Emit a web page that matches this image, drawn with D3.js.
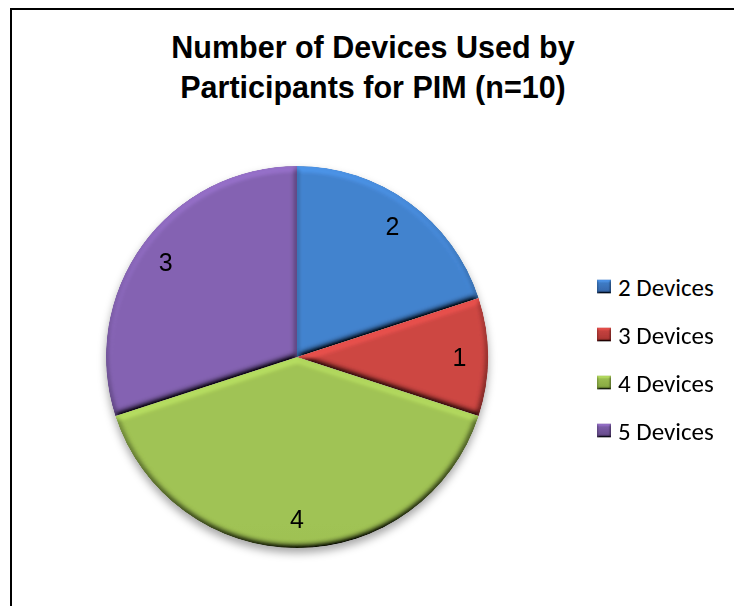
<!DOCTYPE html>
<html>
<head>
<meta charset="utf-8">
<script src="https://cdn.jsdelivr.net/npm/d3@7"></script>
<style>
  html, body { margin: 0; padding: 0; background: #fff; }
  svg { display: block; }
</style>
</head>
<body>
<svg id="chart" width="734" height="606"></svg>
<script>
// Participants grouped by how many devices they use for PIM
const categories = ["2 Devices", "3 Devices", "4 Devices", "5 Devices"];
const counts = [2, 1, 4, 3];
const titleLines = ["Number of Devices Used by", "Participants for PIM (n=10)"];

// light (top) and dark (bottom) tone for each slice
const lightTones = ["#4384d0", "#cf4743", "#a2c555", "#8563b3"];
const darkTones  = ["#3465a8", "#a93331", "#84a53f", "#634987"];

const svg = d3.select("#chart");
const W = 734, H = 606;
const cx = 297, cy = 357, R = 191;

const defs = svg.append("defs");

// soft shadow beneath the pie
const shadow = defs.append("filter").attr("id", "pieShadow")
  .attr("x", "-10%").attr("y", "-10%").attr("width", "120%").attr("height", "125%");
shadow.append("feDropShadow").attr("dx", 0).attr("dy", 5)
  .attr("stdDeviation", 4).attr("flood-color", "#000").attr("flood-opacity", 0.35);

// bevelled edge lighting, light coming from above
function bevel(id, blur, scale) {
  const f = defs.append("filter").attr("id", id)
    .attr("x", "-5%").attr("y", "-5%").attr("width", "110%").attr("height", "110%");
  f.append("feGaussianBlur").attr("in", "SourceAlpha").attr("stdDeviation", blur).attr("result", "b");
  const lit = f.append("feDiffuseLighting").attr("in", "b").attr("surfaceScale", scale)
    .attr("diffuseConstant", 1).attr("lighting-color", "#fff").attr("result", "d");
  lit.append("feDistantLight").attr("azimuth", 260).attr("elevation", 50);
  f.append("feComposite").attr("in", "SourceGraphic").attr("in2", "d")
    .attr("operator", "arithmetic").attr("k1", 1.28).attr("k2", 0).attr("k3", 0).attr("k4", 0)
    .attr("result", "lit");
  f.append("feComposite").attr("in", "lit").attr("in2", "SourceAlpha").attr("operator", "in");
}
bevel("sliceBevel", 3, 5);
bevel("keyBevel", 1.2, 2.5);

// vertical shading for every series
const grads = categories.map((c, i) => {
  const id = "shade" + i;
  const g = defs.append("linearGradient").attr("id", id)
    .attr("gradientUnits", "userSpaceOnUse")
    .attr("x1", 0).attr("y1", cy - R).attr("x2", 0).attr("y2", cy + R);
  g.append("stop").attr("offset", "0%").attr("stop-color", lightTones[i]);
  g.append("stop").attr("offset", "100%").attr("stop-color", darkTones[i]);
  return id;
});
const keyGrads = categories.map((c, i) => {
  const id = "keyShade" + i;
  const g = defs.append("linearGradient").attr("id", id)
    .attr("x1", 0).attr("y1", 0).attr("x2", 0).attr("y2", 1);
  g.append("stop").attr("offset", "0%").attr("stop-color", lightTones[i]);
  g.append("stop").attr("offset", "100%").attr("stop-color", darkTones[i]);
  return id;
});

// chart frame
svg.append("rect")
  .attr("x", 11).attr("y", 9).attr("width", W + 50).attr("height", H + 50)
  .attr("fill", "none").attr("stroke", "#000").attr("stroke-width", 2);

// title
svg.append("text")
  .attr("x", 373).attr("y", 58)
  .attr("text-anchor", "middle")
  .style("font-family", "'Liberation Sans', Arial, sans-serif")
  .style("font-weight", "bold").style("font-size", "30.5px").attr("fill", "#000")
  .selectAll("tspan").data(titleLines).join("tspan")
  .attr("x", 373).attr("dy", (d, i) => i === 0 ? 0 : 40)
  .text(d => d);

// pie
const rows = categories.map((c, i) => ({ category: c, value: counts[i], index: i }));
const pie = d3.pie().value(d => d.value).sort(null);
const arc = d3.arc().innerRadius(0).outerRadius(R);
const labelArc = d3.arc().innerRadius(R * 0.85).outerRadius(R * 0.85);
const arcs = pie(rows);

const pieG = svg.append("g").attr("transform", `translate(${cx},${cy})`);
const sliceG = pieG.append("g").attr("filter", "url(#pieShadow)");
sliceG.selectAll("path.slice").data(arcs).join("path")
  .attr("class", "slice")
  .attr("d", arc)
  .attr("fill", d => `url(#${grads[d.data.index]})`)
  .attr("filter", "url(#sliceBevel)");

// value labels
pieG.selectAll("text.value").data(arcs).join("text")
  .attr("class", "value")
  .attr("transform", d => `translate(${labelArc.centroid(d)})`)
  .attr("text-anchor", "middle").attr("dy", "0.36em")
  .style("font-family", "'Liberation Sans', Arial, sans-serif")
  .style("font-size", "25px").attr("fill", "#000")
  .text(d => d.data.value);

// legend
const legendY = d3.scalePoint().domain(categories).range([287, 431]);
const legend = svg.append("g");
const item = legend.selectAll("g.item").data(rows).join("g")
  .attr("class", "item")
  .attr("transform", d => `translate(597,${legendY(d.category)})`);
item.append("rect")
  .attr("x", 0).attr("y", -7.5).attr("width", 14).attr("height", 14)
  .attr("fill", d => `url(#${keyGrads[d.index]})`)
  .attr("filter", "url(#keyBevel)");
item.append("text")
  .attr("x", 21).attr("dy", "0.36em")
  .style("font-family", "Carlito, Calibri, Lato, sans-serif")
  .style("font-size", "25px").attr("fill", "#000")
  .text(d => d.category);
</script>
</body>
</html>
